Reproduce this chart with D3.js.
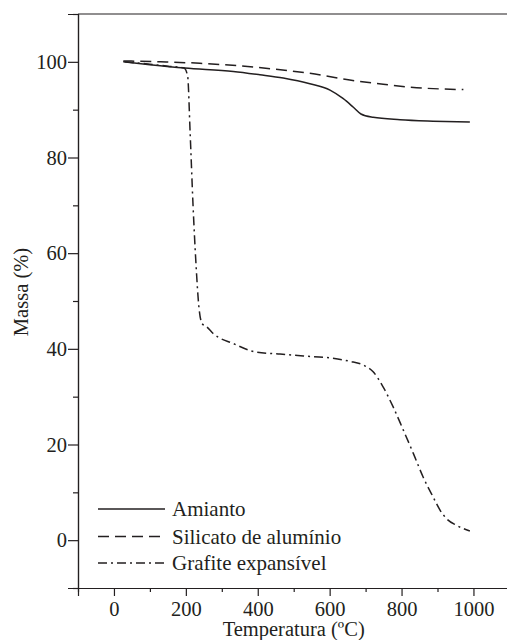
<!DOCTYPE html>
<meta charset="utf-8">
<style>
body { margin: 0; background: #fff; }
svg text { font-family: "Liberation Serif", "Times New Roman", Times, "DejaVu Serif", serif !important; fill: #231f20; }
.axis path, .axis line { stroke: #231f20; stroke-width: 1.2; }
.axis text { font-size: 20.5px; }
.curve { fill: none; stroke: #231f20; stroke-width: 1.5; }
.legend text { font-size: 21px; }
</style>
<body>
<script src="https://cdn.jsdelivr.net/npm/d3@7"></script>
<script>

// Amianto (solid)
var amiantoT = [26, 100, 197, 332, 406, 471, 545, 601, 638, 666, 687, 721, 796, 888, 990];
var amiantoM = [100, 99.4, 98.7, 98.0, 97.3, 96.6, 95.4, 94.1, 92.3, 90.5, 89.1, 88.4, 87.9, 87.6, 87.4];

// Silicato de aluminio (dashed)
var silicatoT = [26, 130, 239, 443, 545, 656, 749, 842, 972];
var silicatoM = [100.2, 100.0, 99.7, 98.5, 97.6, 96.2, 95.3, 94.6, 94.2];

// Grafite expansivel (dash-dot)
var grafiteT = [30, 100, 150, 195, 205, 212, 220, 228, 236, 245, 258, 276, 332, 397, 462, 527, 601, 656, 694, 721, 749, 777, 805, 833, 860, 888, 907, 925, 953, 990];
var grafiteM = [100, 99.5, 99.1, 98.7, 97, 85, 70, 58, 49, 45.3, 44.6, 43.2, 41.1, 39.3, 38.9, 38.5, 38.1, 37.4, 36.6, 35.2, 32, 27.8, 23, 18.1, 13.2, 9, 6.3, 4.5, 3.1, 1.9];

var xMajor = [0, 200, 400, 600, 800, 1000];
var xMinor = [-100, 100, 300, 500, 700, 900, 1100];
var yMajor = [0, 20, 40, 60, 80, 100];
var yMinor = [-10, 10, 30, 50, 70, 90, 110];

var seriesNames = ["Amianto", "Silicato de alumínio", "Grafite expansível"];
var dashes = [null, "11,6", "9,4,2,4"];

var width = 507, height = 640;
var x = d3.scaleLinear().domain([-100, 1100]).range([78, 78 + 1200 * 0.3595]);
var y = d3.scaleLinear().domain([-10, 110]).range([588, 14]);

var svg = d3.select("body").append("svg")
    .attr("width", width)
    .attr("height", height);

// frame (top + right)
svg.append("path")
    .attr("d", "M" + x(-100) + "," + y(110) + "H" + x(1100) + "V" + y(-10))
    .attr("fill", "none")
    .attr("stroke", "#231f20")
    .attr("stroke-width", 1.2);

svg.append("g").attr("class", "axis")
    .attr("transform", "translate(0," + y(-10) + ")")
    .call(d3.axisBottom(x).tickValues(xMajor).tickSize(8).tickPadding(5.5).tickFormat(d3.format("d")));
svg.append("g").attr("class", "axis")
    .attr("transform", "translate(0," + y(-10) + ")")
    .call(d3.axisBottom(x).tickValues(xMinor).tickSize(4).tickSizeOuter(0).tickFormat(""));

svg.append("g").attr("class", "axis")
    .attr("transform", "translate(" + x(-100) + ",0)")
    .call(d3.axisLeft(y).tickValues(yMajor).tickSize(10).tickPadding(1).tickFormat(d3.format("d")));
svg.append("g").attr("class", "axis")
    .attr("transform", "translate(" + x(-100) + ",0)")
    .call(d3.axisLeft(y).tickValues(yMinor).tickSize(5).tickSizeOuter(0).tickFormat(""));

svg.selectAll(".axis").attr("font-family", null).attr("font-size", null);

// axis titles
svg.append("text")
    .attr("x", x(500))
    .attr("y", 636)
    .attr("text-anchor", "middle")
    .attr("font-size", "20.5px")
    .text("Temperatura (ºC)");

svg.append("text")
    .attr("transform", "translate(28,292) rotate(-90)")
    .attr("text-anchor", "middle")
    .attr("font-size", "20.5px")
    .text("Massa (%)");

// curves
var line = d3.line()
    .x(function(d) { return x(d[0]); })
    .y(function(d) { return y(d[1]); })
    .curve(d3.curveMonotoneX);

var series = [
  d3.zip(amiantoT, amiantoM),
  d3.zip(silicatoT, silicatoM),
  d3.zip(grafiteT, grafiteM)
];

svg.selectAll(".curve")
    .data(series)
  .enter().append("path")
    .attr("class", "curve")
    .attr("d", line)
    .attr("stroke-dasharray", function(d, i) { return dashes[i]; });

// legend
var legend = svg.append("g").attr("class", "legend");
var ly = [509, 536.5, 563];
seriesNames.forEach(function(name, i) {
  legend.append("line")
      .attr("x1", 98).attr("x2", 165)
      .attr("y1", ly[i]).attr("y2", ly[i])
      .attr("stroke", "#231f20")
      .attr("stroke-width", 1.5)
      .attr("stroke-dasharray", dashes[i]);
  legend.append("text")
      .attr("x", 172)
      .attr("y", ly[i])
      .attr("dy", "0.35em")
      .text(name);
});

</script>
